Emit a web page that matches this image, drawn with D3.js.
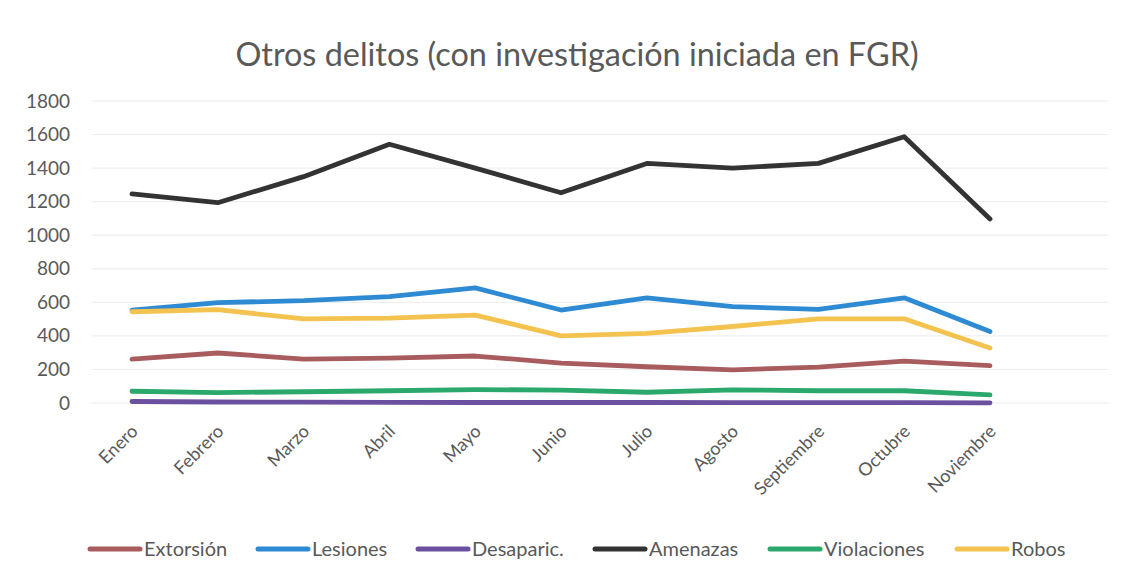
<!DOCTYPE html>
<html>
<head>
<meta charset="utf-8">
<script src="https://cdn.jsdelivr.net/npm/d3@7"></script>
<style>
  html, body { margin: 0; padding: 0; background: #fff; }
  svg { display: block; }
</style>
</head>
<body>
<svg id="chart" width="1133" height="581"></svg>
<script>
const months = ["Enero","Febrero","Marzo","Abril","Mayo","Junio","Julio","Agosto","Septiembre","Octubre","Noviembre"];
const extorsion   = [262, 298, 262, 267, 280, 238, 216, 197, 214, 250, 223];
const lesiones    = [554, 598, 610, 634, 686, 554, 627, 574, 558, 627, 426];
const desaparic   = [9, 6, 5, 4, 3, 3, 3, 2, 2, 2, 1];
const amenazas    = [1246, 1194, 1349, 1542, 1400, 1253, 1428, 1400, 1428, 1587, 1097];
const violaciones = [70, 62, 67, 73, 80, 77, 64, 78, 73, 73, 48];
const robos       = [544, 556, 502, 506, 524, 400, 415, 456, 502, 502, 328];
const yTicks = [0, 200, 400, 600, 800, 1000, 1200, 1400, 1600, 1800];
const title = "Otros delitos (con investigación iniciada en FGR)";

const series = [
  { name: "Extorsión",   values: extorsion,   color: "#a85c5e" },
  { name: "Lesiones",    values: lesiones,    color: "#2e8ad2" },
  { name: "Desaparic.",  values: desaparic,   color: "#6a509e" },
  { name: "Amenazas",    values: amenazas,    color: "#333333" },
  { name: "Violaciones", values: violaciones, color: "#2ba86c" },
  { name: "Robos",       values: robos,       color: "#f4c24e" }
];

const svg = d3.select("#chart");
const font = "Lato, 'Open Sans', sans-serif";
const textColor = "#595959";

const x = d3.scalePoint().domain(months).range([132, 990]);
const y = d3.scaleLinear().domain([0, 1800]).range([403, 101]);

// gridlines
svg.append("g").selectAll("line").data(yTicks).join("line")
  .attr("x1", 92).attr("x2", 1108)
  .attr("y1", d => y(d)).attr("y2", d => y(d))
  .attr("stroke", "#ececec").attr("stroke-width", 1);

// y axis labels
const yAxis = d3.axisLeft(y).tickValues(yTicks).tickFormat(d3.format("d")).tickSize(0).tickPadding(0);
const yg = svg.append("g").attr("transform", "translate(70,0)").call(yAxis);
yg.select(".domain").remove();
yg.selectAll("text").attr("font-family", font).attr("font-size", 19).attr("fill", textColor);

// x axis labels
const xAxis = d3.axisBottom(x).tickSize(0).tickPadding(0);
const xg = svg.append("g").attr("transform", "translate(0,428)").call(xAxis);
xg.select(".domain").remove();
xg.selectAll("text")
  .attr("font-family", font).attr("font-size", 18)
  .attr("fill", textColor)
  .attr("text-anchor", "end")
  .attr("dy", "0.35em")
  .attr("transform", "translate(2,0) rotate(-45)");

// lines
const line = d3.line().x((d, i) => x(months[i])).y(d => y(d));
svg.append("g").selectAll("path").data(series).join("path")
  .attr("d", d => line(d.values))
  .attr("fill", "none")
  .attr("stroke", d => d.color)
  .attr("stroke-width", 4.8)
  .attr("stroke-linejoin", "round")
  .attr("stroke-linecap", "round");

// title
svg.append("text")
  .attr("x", 577).attr("y", 66)
  .attr("text-anchor", "middle")
  .attr("font-family", font).attr("font-size", 32.4)
  .attr("fill", textColor)
  .text(title);

// legend
const legendX = [88, 256, 416, 593, 768, 955];
const lg = svg.append("g").selectAll("g").data(series).join("g")
  .attr("transform", (d, i) => `translate(${legendX[i]},549)`);
lg.append("line").attr("x1", 2).attr("x2", 52).attr("y1", 0).attr("y2", 0)
  .attr("stroke", d => d.color).attr("stroke-width", 5).attr("stroke-linecap", "round");
lg.append("text").attr("x", 56).attr("y", 0).attr("dy", "0.35em")
  .attr("font-family", font).attr("font-size", 20).attr("fill", textColor)
  .text(d => d.name);
</script>
</body>
</html>
